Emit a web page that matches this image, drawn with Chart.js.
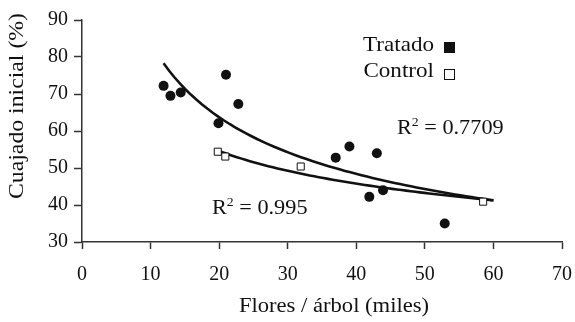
<!DOCTYPE html>
<html>
<head>
<meta charset="utf-8">
<script src="https://cdn.jsdelivr.net/npm/chart.js@4/dist/chart.umd.min.js"></script>
<style>
  html, body { margin: 0; padding: 0; background: #fff; }
  #wrap { width: 575px; height: 322px; position: relative; }
</style>
</head>
<body>
<div id="wrap"><canvas id="c"></canvas></div>
<script>
// Fruit set vs. flower load per tree
const tratadoX = [11.9, 12.9, 14.4, 19.9, 21.0, 22.8, 37.0, 39.0, 41.9, 43.0, 43.9, 52.9];
const tratadoY = [72.2, 69.5, 70.4, 62.1, 75.2, 67.3, 52.8, 55.8, 42.2, 54.0, 44.0, 35.0];
const controlX = [19.8, 20.9, 31.9, 58.5];
const controlY = [54.4, 53.1, 50.4, 40.9];
const seriesNames = ['Tratado', 'Control'];
const r2Values = ['0.7709', '0.995'];
const xTicks = [0, 10, 20, 30, 40, 50, 60, 70];
const yTicks = [30, 40, 50, 60, 70, 80, 90];
const trendEndX = 60;

const SERIF = '"Liberation Serif", "Times New Roman", serif';
const INK = '#111';

// Power-law trend line y = a * x^b, least squares on ln(x), ln(y)
function powerFit(xs, ys) {
  const lx = xs.map(Math.log), ly = ys.map(Math.log);
  const n = xs.length;
  const mx = lx.reduce((s, v) => s + v, 0) / n;
  const my = ly.reduce((s, v) => s + v, 0) / n;
  let sxy = 0, sxx = 0;
  for (let i = 0; i < n; i++) { sxy += (lx[i] - mx) * (ly[i] - my); sxx += (lx[i] - mx) ** 2; }
  const b = sxy / sxx;
  const a = Math.exp(my - b * mx);
  return { a, b };
}
function trendPoints(xs, ys, xEnd) {
  const { a, b } = powerFit(xs, ys);
  const x0 = Math.min(...xs);
  const pts = [];
  const steps = 60;
  for (let i = 0; i <= steps; i++) {
    const x = x0 + (xEnd - x0) * i / steps;
    pts.push({ x, y: a * Math.pow(x, b) });
  }
  return pts;
}

const tratadoPts = tratadoX.map((x, i) => ({ x, y: tratadoY[i] }));
const controlPts = controlX.map((x, i) => ({ x, y: controlY[i] }));

// Text drawn slightly widened, like the typeset figure
function wideText(ctx, text, x, y, size, sx, align, rot) {
  ctx.save();
  ctx.translate(x, y);
  if (rot) ctx.rotate(rot);
  ctx.scale(sx, 1);
  ctx.font = size + 'px ' + SERIF;
  ctx.textAlign = align;
  ctx.fillText(text, 0, 0);
  ctx.restore();
}

// Legend, R² labels and axis titles
const annotations = {
  id: 'annotations',
  afterDraw(chart) {
    const ctx = chart.ctx;
    ctx.save();
    ctx.fillStyle = INK;
    ctx.textBaseline = 'alphabetic';

    // axis titles
    wideText(ctx, 'Flores / árbol (miles)', 334, 312, 20, 1.13, 'center');
    ctx.textBaseline = 'middle';
    wideText(ctx, 'Cuajado inicial (%)', 17, 106, 22, 1.08, 'center', -Math.PI / 2);
    ctx.textBaseline = 'alphabetic';

    // legend
    wideText(ctx, seriesNames[0], 434, 51, 21, 1.1, 'right');
    wideText(ctx, seriesNames[1], 434, 77, 21, 1.1, 'right');
    ctx.fillRect(444, 42, 11, 11);
    ctx.fillStyle = '#fff';
    ctx.strokeStyle = INK;
    ctx.lineWidth = 1;
    ctx.fillRect(444.5, 69.5, 10, 10);
    ctx.strokeRect(444.5, 69.5, 10, 10);
    ctx.fillStyle = INK;

    // R² labels
    function r2(text, x, y) {
      ctx.save();
      ctx.translate(x, y);
      ctx.scale(1.06, 1);
      ctx.textAlign = 'left';
      ctx.font = '21px ' + SERIF;
      ctx.fillText('R', 0, 0);
      const w = ctx.measureText('R').width;
      ctx.font = '13px ' + SERIF;
      ctx.fillText('2', w, -8);
      const w2 = ctx.measureText('2').width;
      ctx.font = '21px ' + SERIF;
      ctx.fillText(' = ' + text, w + w2, 0);
      ctx.restore();
    }
    r2(r2Values[0], 397, 134);
    r2(r2Values[1], 212, 214);
    ctx.restore();
  }
};

new Chart(document.getElementById('c'), {
  type: 'scatter',
  data: {
    datasets: [
      {
        label: seriesNames[0],
        data: tratadoPts,
        pointStyle: 'circle',
        pointRadius: 5,
        pointHoverRadius: 5,
        backgroundColor: INK,
        borderColor: INK,
        borderWidth: 0
      },
      {
        label: seriesNames[1],
        data: controlPts,
        pointStyle: 'rect',
        pointRadius: 5,
        pointHoverRadius: 5,
        backgroundColor: '#fff',
        borderColor: INK,
        borderWidth: 1
      },
      {
        label: 'tendencia ' + seriesNames[0],
        data: trendPoints(tratadoX, tratadoY, trendEndX),
        showLine: true,
        pointRadius: 0,
        borderColor: INK,
        borderWidth: 2.6,
        tension: 0
      },
      {
        label: 'tendencia ' + seriesNames[1],
        data: trendPoints(controlX, controlY, trendEndX),
        showLine: true,
        pointRadius: 0,
        borderColor: INK,
        borderWidth: 2.6,
        tension: 0
      }
    ]
  },
  options: {
    responsive: true,
    maintainAspectRatio: false,
    animation: false,
    events: [],
    layout: { padding: { top: 20, right: 13, left: 0, bottom: 0 } },
    plugins: { legend: { display: false }, tooltip: { enabled: false } },
    scales: {
      x: {
        type: 'linear',
        min: 0, max: 70,
        afterBuildTicks(scale) { scale.ticks = xTicks.map(v => ({ value: v })); },
        afterFit(scale) {
          scale.height = 80;
          scale.paddingLeft = 0;
          scale.paddingRight = 0;
        },
        border: { display: true, color: '#333', width: 1.5 },
        grid: { drawOnChartArea: false, drawTicks: true, tickLength: 7, tickColor: '#333', tickWidth: 1.5 },
        ticks: { font: { family: SERIF, size: 20 }, color: INK, padding: 14, maxRotation: 0 }
      },
      y: {
        type: 'linear',
        min: 30, max: 90,
        afterBuildTicks(scale) { scale.ticks = yTicks.map(v => ({ value: v })); },
        afterFit(scale) {
          scale.width = 82;
          scale.paddingTop = 0;
          scale.paddingBottom = 0;
        },
        border: { display: true, color: '#333', width: 1.5 },
        grid: { drawOnChartArea: false, drawTicks: true, tickLength: 8, tickColor: '#333', tickWidth: 1.5 },
        ticks: { font: { family: SERIF, size: 20 }, color: INK, padding: 6 }
      }
    }
  },
  plugins: [annotations]
});
</script>
</body>
</html>
